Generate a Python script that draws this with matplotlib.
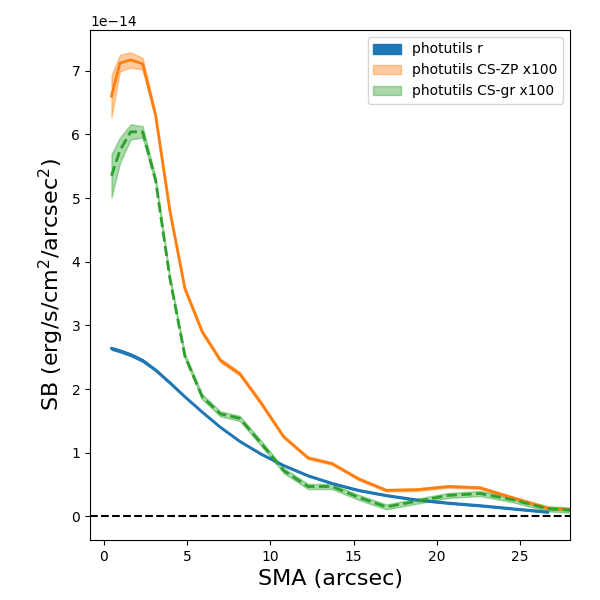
import matplotlib
matplotlib.use("Agg")
import matplotlib.pyplot as plt
import numpy as np

# semi-major axis (arcsec)
sma = np.array([0.45, 0.96, 1.6, 2.32, 3.1, 3.96, 4.86, 5.9, 7.0, 8.16, 9.44,
                10.8, 12.26, 13.7, 15.3, 16.96, 18.8, 20.7, 22.6, 24.6, 26.66, 29.3])

# surface brightness, units of 1e-14 erg/s/cm^2/arcsec^2
sb_r = np.array([2.64, 2.60, 2.54, 2.45, 2.30, 2.10, 1.88, 1.64, 1.40, 1.18, 0.98,
                 0.80, 0.64, 0.52, 0.41, 0.33, 0.26, 0.21, 0.17, 0.12, 0.07, np.nan])
sb_r_err = np.array([0.02, 0.02, 0.02, 0.02, 0.015, 0.015, 0.01, 0.01, 0.01, 0.01, 0.01,
                     0.01, 0.01, 0.01, 0.01, 0.01, 0.01, 0.01, 0.01, 0.01, 0.01, np.nan])

sb_zp = np.array([6.60, 7.12, 7.17, 7.11, 6.30, 4.80, 3.58, 2.90, 2.45, 2.24, 1.78,
                  1.25, 0.92, 0.83, 0.59, 0.41, 0.42, 0.47, 0.45, 0.29, 0.13, 0.09])
sb_zp_err = np.array([0.33, 0.13, 0.12, 0.09, 0.05, 0.03, 0.03, 0.03, 0.03, 0.03, 0.03,
                      0.02, 0.02, 0.02, 0.02, 0.02, 0.02, 0.02, 0.02, 0.02, 0.02, 0.02])

sb_gr = np.array([5.35, 5.75, 6.04, 6.04, 5.28, 3.74, 2.52, 1.88, 1.61, 1.54, 1.15,
                  0.72, 0.47, 0.47, 0.30, 0.15, 0.24, 0.33, 0.36, 0.26, 0.12, 0.08])
sb_gr_err = np.array([0.34, 0.20, 0.12, 0.09, 0.05, 0.04, 0.04, 0.04, 0.04, 0.04, 0.04,
                      0.04, 0.04, 0.04, 0.04, 0.04, 0.04, 0.04, 0.04, 0.04, 0.04, 0.04])

SCALE = 1e-14

fig, ax = plt.subplots(figsize=(6, 6), dpi=100)

ax.fill_between(sma, (sb_r - sb_r_err) * SCALE, (sb_r + sb_r_err) * SCALE,
                color="C0", label="photutils r")
ax.plot(sma, sb_r * SCALE, color="C0", lw=2)

ax.fill_between(sma, (sb_zp - sb_zp_err) * SCALE, (sb_zp + sb_zp_err) * SCALE,
                color="C1", alpha=0.4, label="photutils CS-ZP x100")
ax.plot(sma, sb_zp * SCALE, color="C1", lw=2)

ax.fill_between(sma, (sb_gr - sb_gr_err) * SCALE, (sb_gr + sb_gr_err) * SCALE,
                color="C2", alpha=0.4, label="photutils CS-gr x100")
ax.plot(sma, sb_gr * SCALE, color="C2", lw=2, ls="--")

ax.axhline(0, color="black", ls="--", lw=1.5)

ax.set_xlim(-0.84, 28)
ax.set_ylim(-0.37 * SCALE, 7.64 * SCALE)
ax.set_xlabel("SMA (arcsec)", fontsize=16)
ax.set_ylabel(r"SB (erg/s/cm$^2$/arcsec$^2$)", fontsize=16)
ax.legend(loc="upper right")

fig.subplots_adjust(left=0.15, right=0.95, bottom=0.1, top=0.95)
fig.savefig("out.png", dpi=100)
